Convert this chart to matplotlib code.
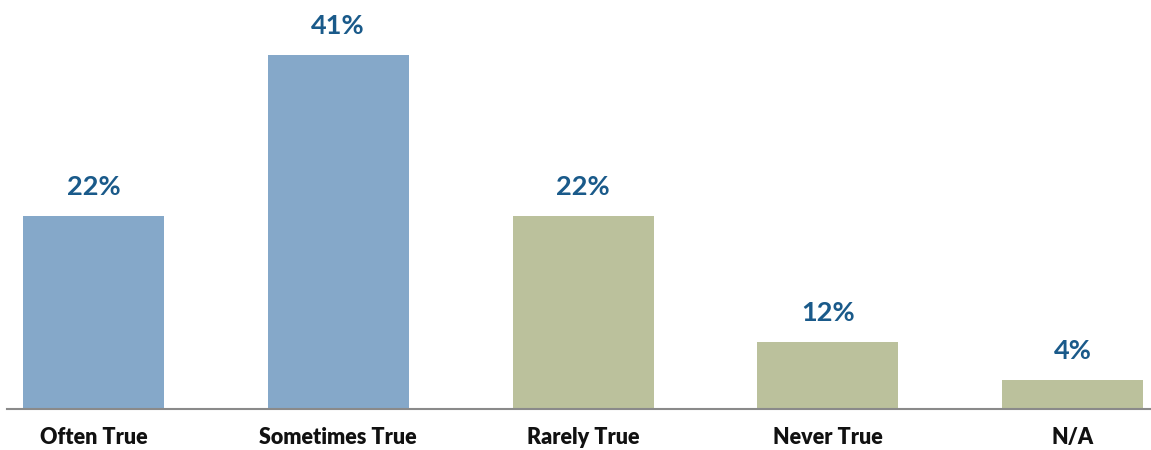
import matplotlib
matplotlib.use("Agg")
import matplotlib.pyplot as plt

categories = ["Often True", "Sometimes True", "Rarely True", "Never True", "N/A"]
bar_heights = [22.4, 41.0, 22.3, 7.8, 3.4]
value_labels = ["22%", "41%", "22%", "12%", "4%"]
bar_colors = ["#85a8c9", "#85a8c9", "#bbc19c", "#bbc19c", "#bbc19c"]

fig = plt.figure(figsize=(11.51, 4.5), dpi=100)
ax = fig.add_axes([7 / 1151, 41 / 450, 1 - 7 / 1151, 409 / 450])

x = list(range(len(categories)))
bars = ax.bar(x, bar_heights, width=0.576, color=bar_colors)
ax.set_xlim(-0.353, 4.32)
ax.set_ylim(0, 409 / 354 * 41)

for b, lab in zip(bars, value_labels):
    ax.annotate(lab, (b.get_x() + b.get_width() / 2, b.get_height()),
                xytext=(0, 29 * 72 / 100), textcoords="offset points",
                ha="center", va="center", fontsize=19.5, fontweight="bold",
                color="#1a5a8a", family="Lato")

for s in ["top", "right", "left"]:
    ax.spines[s].set_visible(False)
ax.spines["bottom"].set_color("#8a8a8a")
ax.spines["bottom"].set_linewidth(1.5)
ax.set_yticks([])
ax.set_xticks(x)
ax.set_xticklabels(categories, fontsize=15.5, fontweight="heavy", family="Lato", color="#111111")
ax.tick_params(axis="x", length=0, pad=13)

fig.savefig("out.png", dpi=100)
